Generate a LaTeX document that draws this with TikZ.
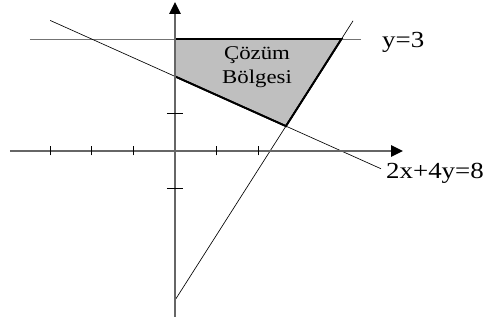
\documentclass[tikz,border=0pt]{standalone}
\usepackage{fontspec}
\usetikzlibrary{arrows.meta}
\setmainfont{Liberation Serif}
\newcommand{\wide}[1]{\scalebox{1.17}[1]{#1}}
\begin{document}
\begin{tikzpicture}[x=41.6pt,y=37.3pt,
  axis/.style={draw=black!60,line width=1.3pt},
  tip/.style={-{Triangle[length=12pt,width=11.5pt,color=black]}},
  tick/.style={draw=black,line width=0.6pt},
  gline/.style={draw=black,line width=0.65pt},
  hline/.style={draw=black!55,line width=0.8pt},
  region/.style={fill=black!25,draw=black,line width=1.8pt,line join=miter},
  lbl/.style={font=\fontsize{23}{25}\selectfont,inner sep=0pt,anchor=base west},
  reglbl/.style={font=\fontsize{19.5}{24.5}\selectfont,align=center,inner sep=0pt}]
\useasboundingbox (-175pt,-172pt) rectangle (310pt,151pt);
% coordinates
\coordinate (xl) at (-165pt,0);
\coordinate (xr) at (228pt,0);
\coordinate (yb) at (0,-165.7pt);
\coordinate (yt) at (0,149pt);
\coordinate (hl) at (-145pt,3);
\coordinate (hr) at (186pt,3);
\coordinate (al) at (-3,3.5);
\coordinate (ar) at (4.95,-0.475);
\coordinate (bl) at (0,-4);
\coordinate (br) at (4.28,3.49);
\coordinate (p1) at (0,3);
\coordinate (p2) at (4,3);
\coordinate (p3) at (2.6667,0.6667);
\coordinate (p4) at (0,2);
% region
\path[region] (p1) -- (p2) -- (p3) -- (p4) -- cycle;
% lines
\draw[hline] (hl) -- (hr);
\draw[gline] (al) -- (ar);
\draw[gline] (bl) -- (br);
% redraw region border on top
\draw[draw=black,line width=1.8pt,line join=miter] (p1) -- (p2) -- (p3) -- (p4) -- cycle;
% axes
\draw[axis,tip] (xl) -- (xr);
\draw[axis,tip] (yb) -- (yt);
\foreach \i in {-3,-2,-1,1,2} \draw[tick] (\i,-4.5pt) -- (\i,4.5pt);
\foreach \j in {-1,1} \draw[tick] (-8pt,\j) -- (8pt,\j);
% labels
\node[lbl] (l3) at (207pt,103.3pt) {\wide{y=3}};
\node[lbl] (l8) at (211pt,-27.7pt) {\wide{2x+4y=8}};
\node[reglbl] (rg) at (82pt,84pt) {\wide{Çözüm}\\\wide{Bölgesi}};
\end{tikzpicture}
\end{document}
